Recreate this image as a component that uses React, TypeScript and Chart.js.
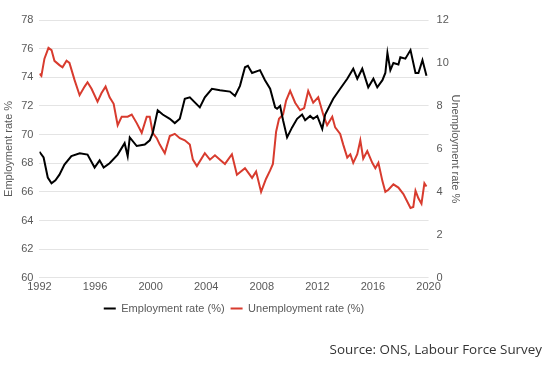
import React, { useEffect, useRef } from "react";
import { Chart, registerables } from "chart.js";

Chart.register(...registerables);

const employmentYears = [
  1992.0, 1992.3, 1992.6, 1992.87, 1993.15, 1993.44, 1993.8, 1994.3, 1994.9, 1995.46,
  1995.97, 1996.33, 1996.62, 1997.05, 1997.63, 1998.13, 1998.35, 1998.5, 1999.0, 1999.58,
  1999.94, 2000.15, 2000.51, 2000.87, 2001.38, 2001.74, 2002.1, 2002.46, 2002.82, 2003.54,
  2003.9, 2004.41, 2004.99, 2005.71, 2006.07, 2006.43, 2006.79, 2007.0, 2007.3, 2007.87,
  2008.23, 2008.6, 2008.96, 2009.1, 2009.32, 2009.53, 2009.82, 2010.18, 2010.54, 2010.9,
  2011.12, 2011.48, 2011.7, 2011.99, 2012.35, 2012.56, 2013.14, 2013.64, 2014.15, 2014.58,
  2014.87, 2015.23, 2015.66, 2016.03, 2016.31, 2016.68, 2016.89, 2017.04, 2017.25, 2017.47,
  2017.83, 2017.97, 2018.33, 2018.7, 2019.06, 2019.27, 2019.56, 2019.85,
];
const employmentRate = [
  68.8, 68.4, 67.0, 66.6, 66.8, 67.2, 67.9, 68.5, 68.7, 68.6,
  67.7, 68.2, 67.7, 68.0, 68.6, 69.4, 68.5, 69.8, 69.2, 69.3,
  69.6, 70.1, 71.7, 71.4, 71.1, 70.8, 71.1, 72.5, 72.6, 71.9,
  72.6, 73.2, 73.1, 73.0, 72.7, 73.4, 74.7, 74.8, 74.3, 74.5,
  73.8, 73.2, 71.9, 71.8, 72.0, 71.0, 69.8, 70.5, 71.1, 71.4,
  71.0, 71.3, 71.1, 71.3, 70.4, 71.4, 72.5, 73.2, 73.9, 74.6,
  73.9, 74.6, 73.3, 73.9, 73.3, 73.8, 74.3, 75.7, 74.5, 75.0,
  74.9, 75.4, 75.3, 75.9, 74.3, 74.3, 75.2, 74.1,
];

const unemploymentYears = [
  1992.0, 1992.14, 1992.36, 1992.65, 1992.87, 1993.08, 1993.44, 1993.66, 1993.95, 1994.16,
  1994.53, 1994.89, 1995.25, 1995.46, 1995.75, 1996.18, 1996.47, 1996.76, 1997.05, 1997.34,
  1997.63, 1997.92, 1998.35, 1998.64, 1999.0, 1999.36, 1999.72, 1999.94, 2000.15, 2000.44,
  2000.66, 2001.02, 2001.38, 2001.74, 2002.1, 2002.46, 2002.82, 2003.04, 2003.33, 2003.9,
  2004.27, 2004.63, 2004.99, 2005.35, 2005.85, 2006.21, 2006.79, 2007.3, 2007.59, 2007.95,
  2008.3, 2008.6, 2008.8, 2009.03, 2009.24, 2009.53, 2009.75, 2010.04, 2010.4, 2010.76,
  2011.05, 2011.34, 2011.7, 2012.06, 2012.42, 2012.7, 2013.07, 2013.28, 2013.64, 2013.86,
  2014.15, 2014.37, 2014.58, 2014.87, 2015.09, 2015.3, 2015.59, 2015.95, 2016.17, 2016.39,
  2016.68, 2016.89, 2017.11, 2017.47, 2017.83, 2018.19, 2018.7, 2018.9, 2019.06, 2019.27,
  2019.49, 2019.7, 2019.85,
];
const unemploymentRate = [
  9.5, 9.4, 10.2, 10.7, 10.6, 10.1, 9.9, 9.8, 10.1, 10.0,
  9.2, 8.5, 8.9, 9.1, 8.8, 8.2, 8.6, 8.9, 8.4, 8.1,
  7.1, 7.5, 7.5, 7.6, 7.2, 6.75, 7.5, 7.5, 6.75, 6.5,
  6.2, 5.8, 6.6, 6.7, 6.5, 6.4, 6.2, 5.5, 5.2, 5.8,
  5.5, 5.7, 5.5, 5.3, 5.75, 4.8, 5.1, 4.65, 4.95, 4.0,
  4.6, 5.0, 5.3, 6.8, 7.4, 7.6, 8.25, 8.7, 8.15, 7.8,
  7.9, 8.7, 8.15, 8.4, 7.6, 7.1, 7.5, 7.0, 6.7, 6.2,
  5.6, 5.75, 5.35, 5.75, 6.4, 5.55, 5.9, 5.35, 5.1, 5.35,
  4.5, 4.0, 4.1, 4.35, 4.2, 3.9, 3.25, 3.3, 4.05, 3.7,
  3.45, 4.4, 4.25,
];

const seriesLabels = ["Employment rate (%)", "Unemployment rate (%)"];
const leftTitle = "Employment rate %";
const rightTitle = "Unemployment rate %";
const sourceText = "Source: ONS, Labour Force Survey";

const tickFont = { family: "'Liberation Sans', Arial, sans-serif", size: 11 };
const tickColor = "#595959";
const gridColor = "#e4e4e4";

export default function App() {
  const canvasRef = useRef<HTMLCanvasElement | null>(null);

  useEffect(() => {
    if (!canvasRef.current) return;
    const chart = new Chart(canvasRef.current, {
      type: "line",
      data: {
        datasets: [
          {
            label: seriesLabels[0],
            data: employmentYears.map((x, i) => ({ x, y: employmentRate[i] })),
            borderColor: "#000000",
            backgroundColor: "#000000",
            borderWidth: 2,
            pointRadius: 0,
            tension: 0,
            yAxisID: "y",
          },
          {
            label: seriesLabels[1],
            data: unemploymentYears.map((x, i) => ({ x, y: unemploymentRate[i] })),
            borderColor: "#d83b2e",
            backgroundColor: "#d83b2e",
            borderWidth: 2,
            pointRadius: 0,
            tension: 0,
            yAxisID: "y1",
          },
        ],
      },
      options: {
        animation: false,
        responsive: false,
        maintainAspectRatio: false,
        layout: { padding: { left: 2, right: 88, top: 20, bottom: 46 } },
        plugins: {
          legend: {
            position: "bottom",
            fullSize: false,
            labels: {
              usePointStyle: true,
              pointStyle: "line",
              pointStyleWidth: 12,
              boxHeight: 11,
              color: tickColor,
              font: tickFont,
              padding: 6,
            },
          },
          tooltip: { enabled: false },
        },
        scales: {
          x: {
            type: "linear",
            min: 1992,
            max: 2020,
            border: { display: false },
            grid: { display: false, drawTicks: false },
            ticks: {
              stepSize: 4,
              color: tickColor,
              font: tickFont,
              maxRotation: 0,
              padding: 3,
              callback: (v: any) => String(v),
            },
          },
          y: {
            position: "left",
            min: 60,
            max: 78,
            border: { display: false },
            grid: { color: gridColor, drawTicks: false },
            ticks: { stepSize: 2, color: tickColor, font: tickFont, padding: 6 },
            title: { display: true, text: leftTitle, color: tickColor, font: tickFont, padding: 0 },
          },
          y1: {
            position: "right",
            min: 0,
            max: 12,
            border: { display: false },
            grid: { drawOnChartArea: false, drawTicks: false },
            ticks: { stepSize: 2, color: tickColor, font: tickFont, padding: 8 },
            title: { display: true, text: rightTitle, color: tickColor, font: tickFont, padding: 0 },
            afterFit: (scale: any) => {
              scale.width -= 8;
            },
          },
        },
      },
    });
    return () => chart.destroy();
  }, []);

  return (
    <div style={{ position: "absolute", left: 0, top: 0, width: 550, height: 370, background: "#fff" }}>
      <canvas ref={canvasRef} width={550} height={370} style={{ width: 550, height: 370 }} />
      <div
        style={{
          position: "absolute",
          right: 8,
          top: 340,
          fontFamily: "'Open Sans', sans-serif",
          fontSize: 13.4,
          color: "#333",
          whiteSpace: "nowrap",
        }}
      >
        {sourceText}
      </div>
    </div>
  );
}
